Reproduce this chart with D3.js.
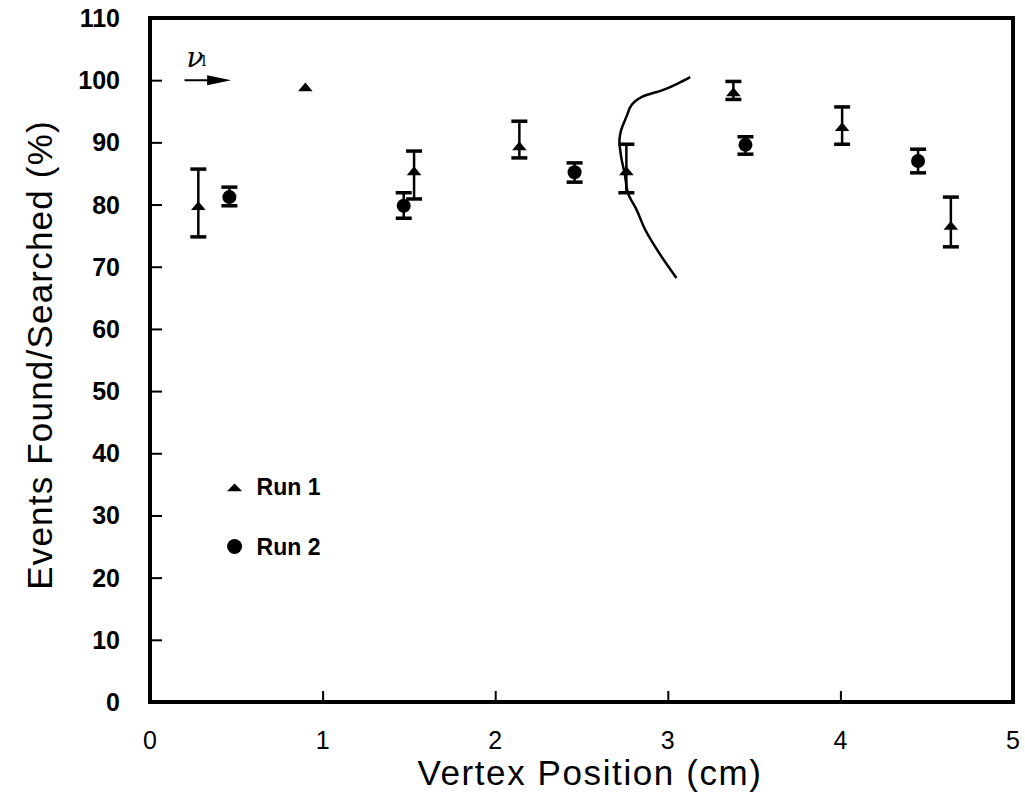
<!DOCTYPE html>
<html>
<head>
<meta charset="utf-8">
<script src="https://cdn.jsdelivr.net/npm/d3@7"></script>
<style>
  body { margin: 0; background: #fff; }
  svg { display: block; }
</style>
</head>
<body>
<div class="chart"></div>
<script>
// Run 1 (triangles): position, value, error bar low/high (null = no bar)
var run1X = [0.28, 0.90, 1.53, 2.14, 2.76, 3.38, 4.01, 4.64];
var run1Y = [79.6, 98.7, 85.2, 89.2, 85.2, 97.9, 92.3, 76.4];
var run1Lo = [74.8, null, 80.9, 87.5, 81.9, 96.9, 89.7, 73.2];
var run1Hi = [85.7, null, 88.6, 93.4, 89.7, 99.8, 95.7, 81.2];

// Run 2 (circles)
var run2X = [0.46, 1.47, 2.46, 3.45, 4.45];
var run2Y = [81.2, 79.8, 85.2, 89.6, 87.0];
var run2Lo = [79.8, 77.8, 83.6, 88.1, 85.1];
var run2Hi = [82.8, 81.9, 86.7, 90.9, 88.9];

// hand-drawn curve over the plot
var curveX = [3.13, 3.06, 2.97, 2.85, 2.79, 2.76, 2.73, 2.72, 2.73, 2.75, 2.77, 2.82, 2.87, 2.95, 3.05];
var curveY = [100.5, 99.5, 98.4, 97.3, 96.0, 94.1, 92.0, 90.4, 87.6, 85.0, 81.8, 79.1, 75.9, 72.2, 68.2];

var xTicks = [0, 1, 2, 3, 4, 5];
var yTicks = [0, 10, 20, 30, 40, 50, 60, 70, 80, 90, 100, 110];

var width = 1025;
var height = 799;
var margin = { left: 150, right: 1013, top: 18, bottom: 702 };

var svg = d3.select('.chart')
  .append('svg')
  .attr('width', width)
  .attr('height', height);

var xScale = d3.scaleLinear().domain([0, 5]).range([margin.left, margin.right]);
var yScale = d3.scaleLinear().domain([0, 110]).range([margin.bottom, margin.top]);

// frame
svg.append('rect')
  .attr('x', margin.left).attr('y', margin.top)
  .attr('width', margin.right - margin.left).attr('height', margin.bottom - margin.top)
  .attr('fill', 'none').attr('stroke', '#000').attr('stroke-width', 4);

// y axis: inward ticks, labels outside
var yAxis = g => g
  .attr('transform', `translate(${margin.left},0)`)
  .call(d3.axisRight(yScale).tickValues(yTicks).tickSize(12).tickFormat(''))
  .call(g => g.select('.domain').remove())
  .call(g => g.selectAll('.tick line').attr('stroke-width', 2));
svg.append('g').call(yAxis);

svg.append('g')
  .selectAll('text')
  .data(yTicks)
  .enter()
  .append('text')
  .attr('x', margin.left - 30)
  .attr('y', d => yScale(d))
  .attr('dy', '0.36em')
  .attr('text-anchor', 'end')
  .attr('font-family', 'Liberation Sans')
  .attr('font-weight', 'bold')
  .attr('font-size', 25)
  .text(d => d);

// x axis
var xAxis = g => g
  .attr('transform', `translate(0,${margin.bottom})`)
  .call(d3.axisTop(xScale).tickValues([1, 2, 3, 4]).tickSize(11).tickFormat(''))
  .call(g => g.select('.domain').remove())
  .call(g => g.selectAll('.tick line').attr('stroke-width', 2));
svg.append('g').call(xAxis);

svg.append('g')
  .selectAll('text')
  .data(xTicks)
  .enter()
  .append('text')
  .attr('x', d => xScale(d))
  .attr('y', margin.bottom + 47)
  .attr('text-anchor', 'middle')
  .attr('font-family', 'Liberation Sans')
  .attr('font-size', 25)
  .text(d => d);

// axis titles
svg.append('text')
  .attr('x', 590).attr('y', 785)
  .attr('text-anchor', 'middle')
  .attr('font-family', 'Liberation Sans')
  .attr('font-size', 35)
  .attr('letter-spacing', 1.6)
  .text('Vertex Position (cm)');

svg.append('text')
  .attr('transform', 'translate(52,355) rotate(-90)')
  .attr('text-anchor', 'middle')
  .attr('font-family', 'Liberation Sans')
  .attr('font-size', 35)
  .attr('letter-spacing', 1.2)
  .text('Events Found/Searched (%)');

// error bars
function errorBars(xs, lo, hi) {
  var idx = d3.range(xs.length).filter(i => lo[i] != null);
  var g = svg.append('g').attr('stroke', '#000').attr('stroke-width', 2.5);
  g.selectAll('.v').data(idx).enter().append('line')
    .attr('x1', i => xScale(xs[i])).attr('x2', i => xScale(xs[i]))
    .attr('y1', i => yScale(lo[i])).attr('y2', i => yScale(hi[i]));
  [lo, hi].forEach(arr => {
    g.selectAll('.c').data(idx).enter().append('line')
      .attr('x1', i => xScale(xs[i]) - 8).attr('x2', i => xScale(xs[i]) + 8)
      .attr('y1', i => yScale(arr[i])).attr('y2', i => yScale(arr[i]))
      .attr('stroke-width', 3.5);
  });
}
errorBars(run1X, run1Lo, run1Hi);
errorBars(run2X, run2Lo, run2Hi);

var tri = d3.symbol().type(d3.symbolTriangle).size(70);

svg.append('g')
  .selectAll('path')
  .data(d3.range(run1X.length))
  .enter()
  .append('path')
  .attr('d', tri)
  .attr('transform', i => `translate(${xScale(run1X[i])},${yScale(run1Y[i])}) scale(1.15,0.8)`)
  .attr('fill', '#000');

svg.append('g')
  .selectAll('circle')
  .data(d3.range(run2X.length))
  .enter()
  .append('circle')
  .attr('cx', i => xScale(run2X[i]))
  .attr('cy', i => yScale(run2Y[i]))
  .attr('r', 7)
  .attr('fill', '#000');

// curve
var line = d3.line()
  .x(i => xScale(curveX[i]))
  .y(i => yScale(curveY[i]))
  .curve(d3.curveCatmullRom.alpha(0.5));

svg.append('path')
  .attr('d', line(d3.range(curveX.length)))
  .attr('fill', 'none')
  .attr('stroke', '#000')
  .attr('stroke-width', 2.5);

// neutrino beam arrow
var ax0 = xScale(0.2), ax1 = xScale(0.47), ay = yScale(100);
svg.append('line')
  .attr('x1', ax0).attr('x2', ax1 - 10)
  .attr('y1', ay).attr('y2', ay)
  .attr('stroke', '#000').attr('stroke-width', 2);
svg.append('path')
  .attr('d', `M${ax1},${ay} L${ax1 - 24},${ay - 5} L${ax1 - 24},${ay + 5} Z`)
  .attr('fill', '#000');
var nu = svg.append('text')
  .attr('x', ax0 + 2).attr('y', ay - 13)
  .attr('font-family', 'DejaVu Serif')
  .attr('font-style', 'italic')
  .attr('font-size', 28);
nu.append('tspan').text('ν');
nu.append('tspan').attr('font-size', 15).attr('font-style', 'normal').attr('dx', -2).attr('dy', -1).text('l');

// legend
var lx = xScale(0.49);
svg.append('path')
  .attr('d', tri)
  .attr('transform', `translate(${lx},${yScale(34.3)}) scale(1.2,0.7)`)
  .attr('fill', '#000');
svg.append('circle')
  .attr('cx', lx).attr('cy', yScale(25.0)).attr('r', 7.5)
  .attr('fill', '#000');
svg.append('g')
  .selectAll('text')
  .data([['Run 1', 34.6], ['Run 2', 25.0]])
  .enter()
  .append('text')
  .attr('x', lx + 22)
  .attr('y', d => yScale(d[1]))
  .attr('dy', '0.36em')
  .attr('font-family', 'Liberation Sans')
  .attr('font-weight', 'bold')
  .attr('font-size', 23)
  .text(d => d[0]);
</script>
</body>
</html>
